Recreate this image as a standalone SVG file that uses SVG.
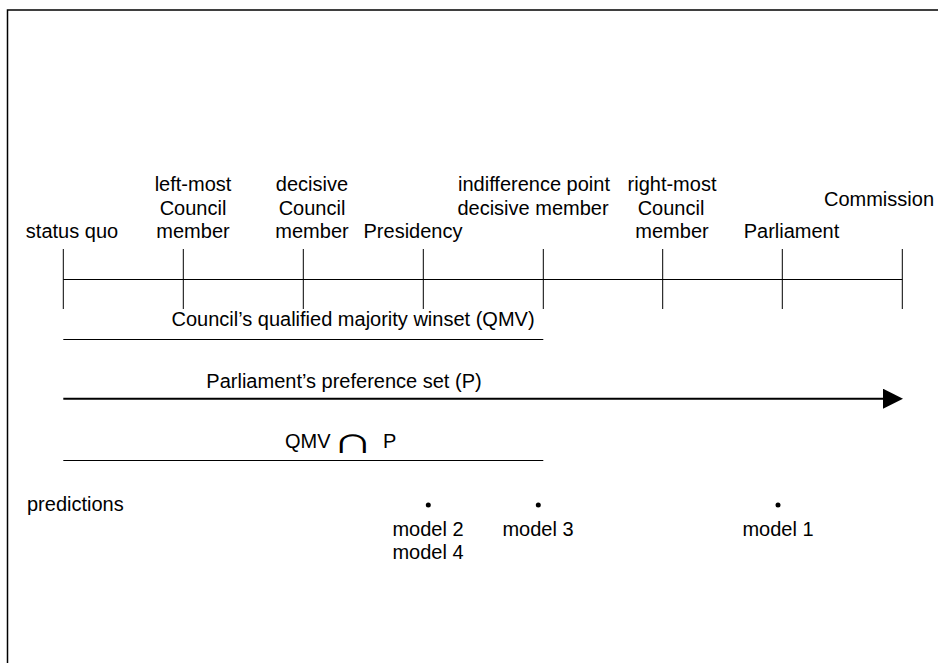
<svg xmlns="http://www.w3.org/2000/svg" width="938" height="663" viewBox="0 0 938 663">
<style>
text{font-family:"Liberation Sans",Arial,Helvetica,sans-serif;font-size:20px;fill:#000}
.c{text-anchor:middle}
.cap{font-family:"DejaVu Sans",sans-serif;font-size:37px;font-weight:200}
.tick{stroke:#000;stroke-width:1}
.ln{stroke:#000;stroke-width:1;fill:none}
</style>
<defs>
<marker id="ah" markerUnits="userSpaceOnUse" markerWidth="20" markerHeight="20" refX="0" refY="10" orient="auto" viewBox="0 0 20 20">
<path d="M0,0 L20,10 L0,20 Z" fill="#000"/>
</marker>
</defs>
<rect width="938" height="663" fill="#fff"/>
<path d="M7.5,663 V10 H938" fill="none" stroke="#000" stroke-width="1.5"/>
<g id="connectors">
<line class="ln" x1="63.3" y1="279.5" x2="902.3" y2="279.5"/>
<line class="ln" x1="63.3" y1="339.5" x2="543.3" y2="339.5" stroke="#444"/>
<line x1="63.3" y1="398.7" x2="883" y2="398.7" stroke="#000" stroke-width="2" marker-end="url(#ah)"/>
<line class="ln" x1="63.3" y1="460.5" x2="543.3" y2="460.5" stroke="#444"/>
</g>
<g id="status-quo">
<line class="tick" x1="63.3" y1="249" x2="63.3" y2="309"/>
<text class="c" x="72" y="238">status quo</text>
</g>
<g id="left-most-council">
<line class="tick" x1="183.3" y1="249" x2="183.3" y2="309"/>
<text class="c" x="193" y="191">left-most</text>
<text class="c" x="193" y="215">Council</text>
<text class="c" x="193" y="238">member</text>
</g>
<g id="decisive-council">
<line class="tick" x1="303.3" y1="249" x2="303.3" y2="309"/>
<text class="c" x="312" y="191">decisive</text>
<text class="c" x="312" y="215">Council</text>
<text class="c" x="312" y="238">member</text>
</g>
<g id="presidency">
<line class="tick" x1="423.3" y1="249" x2="423.3" y2="309"/>
<text class="c" x="413" y="238">Presidency</text>
</g>
<g id="indifference-point">
<line class="tick" x1="543.3" y1="249" x2="543.3" y2="309"/>
<text class="c" x="534" y="191">indifference point</text>
<text class="c" x="533" y="215">decisive member</text>
</g>
<g id="right-most-council">
<line class="tick" x1="662.7" y1="249" x2="662.7" y2="309"/>
<text class="c" x="672" y="191">right-most</text>
<text class="c" x="671" y="215">Council</text>
<text class="c" x="672" y="238">member</text>
</g>
<g id="parliament">
<line class="tick" x1="782.3" y1="249" x2="782.3" y2="309"/>
<text class="c" x="791.5" y="238">Parliament</text>
</g>
<g id="commission">
<line class="tick" x1="902.3" y1="249" x2="902.3" y2="309"/>
<text class="c" x="879" y="206">Commission</text>
</g>
<g id="qmv-winset">
<text class="c" x="353" y="326">Council’s qualified majority winset (QMV)</text>
</g>
<g id="parliament-set">
<text class="c" x="344" y="388">Parliament’s preference set (P)</text>
</g>
<g id="qmv-cap-p">
<text x="285" y="448">QMV</text>
<text class="cap" transform="translate(332,453) scale(1.55,1)" x="0" y="0">∩</text>
<text x="383" y="448">P</text>
</g>
<g id="predictions">
<text x="27" y="511">predictions</text>
</g>
<g id="model-2-4">
<circle cx="428.3" cy="505" r="2.5" fill="#000"/>
<text class="c" x="428" y="536">model 2</text>
<text class="c" x="428" y="559">model 4</text>
</g>
<g id="model-3">
<circle cx="538.3" cy="505" r="2.5" fill="#000"/>
<text class="c" x="538" y="536">model 3</text>
</g>
<g id="model-1">
<circle cx="778" cy="505" r="2.5" fill="#000"/>
<text class="c" x="778" y="536">model 1</text>
</g>
</svg>
